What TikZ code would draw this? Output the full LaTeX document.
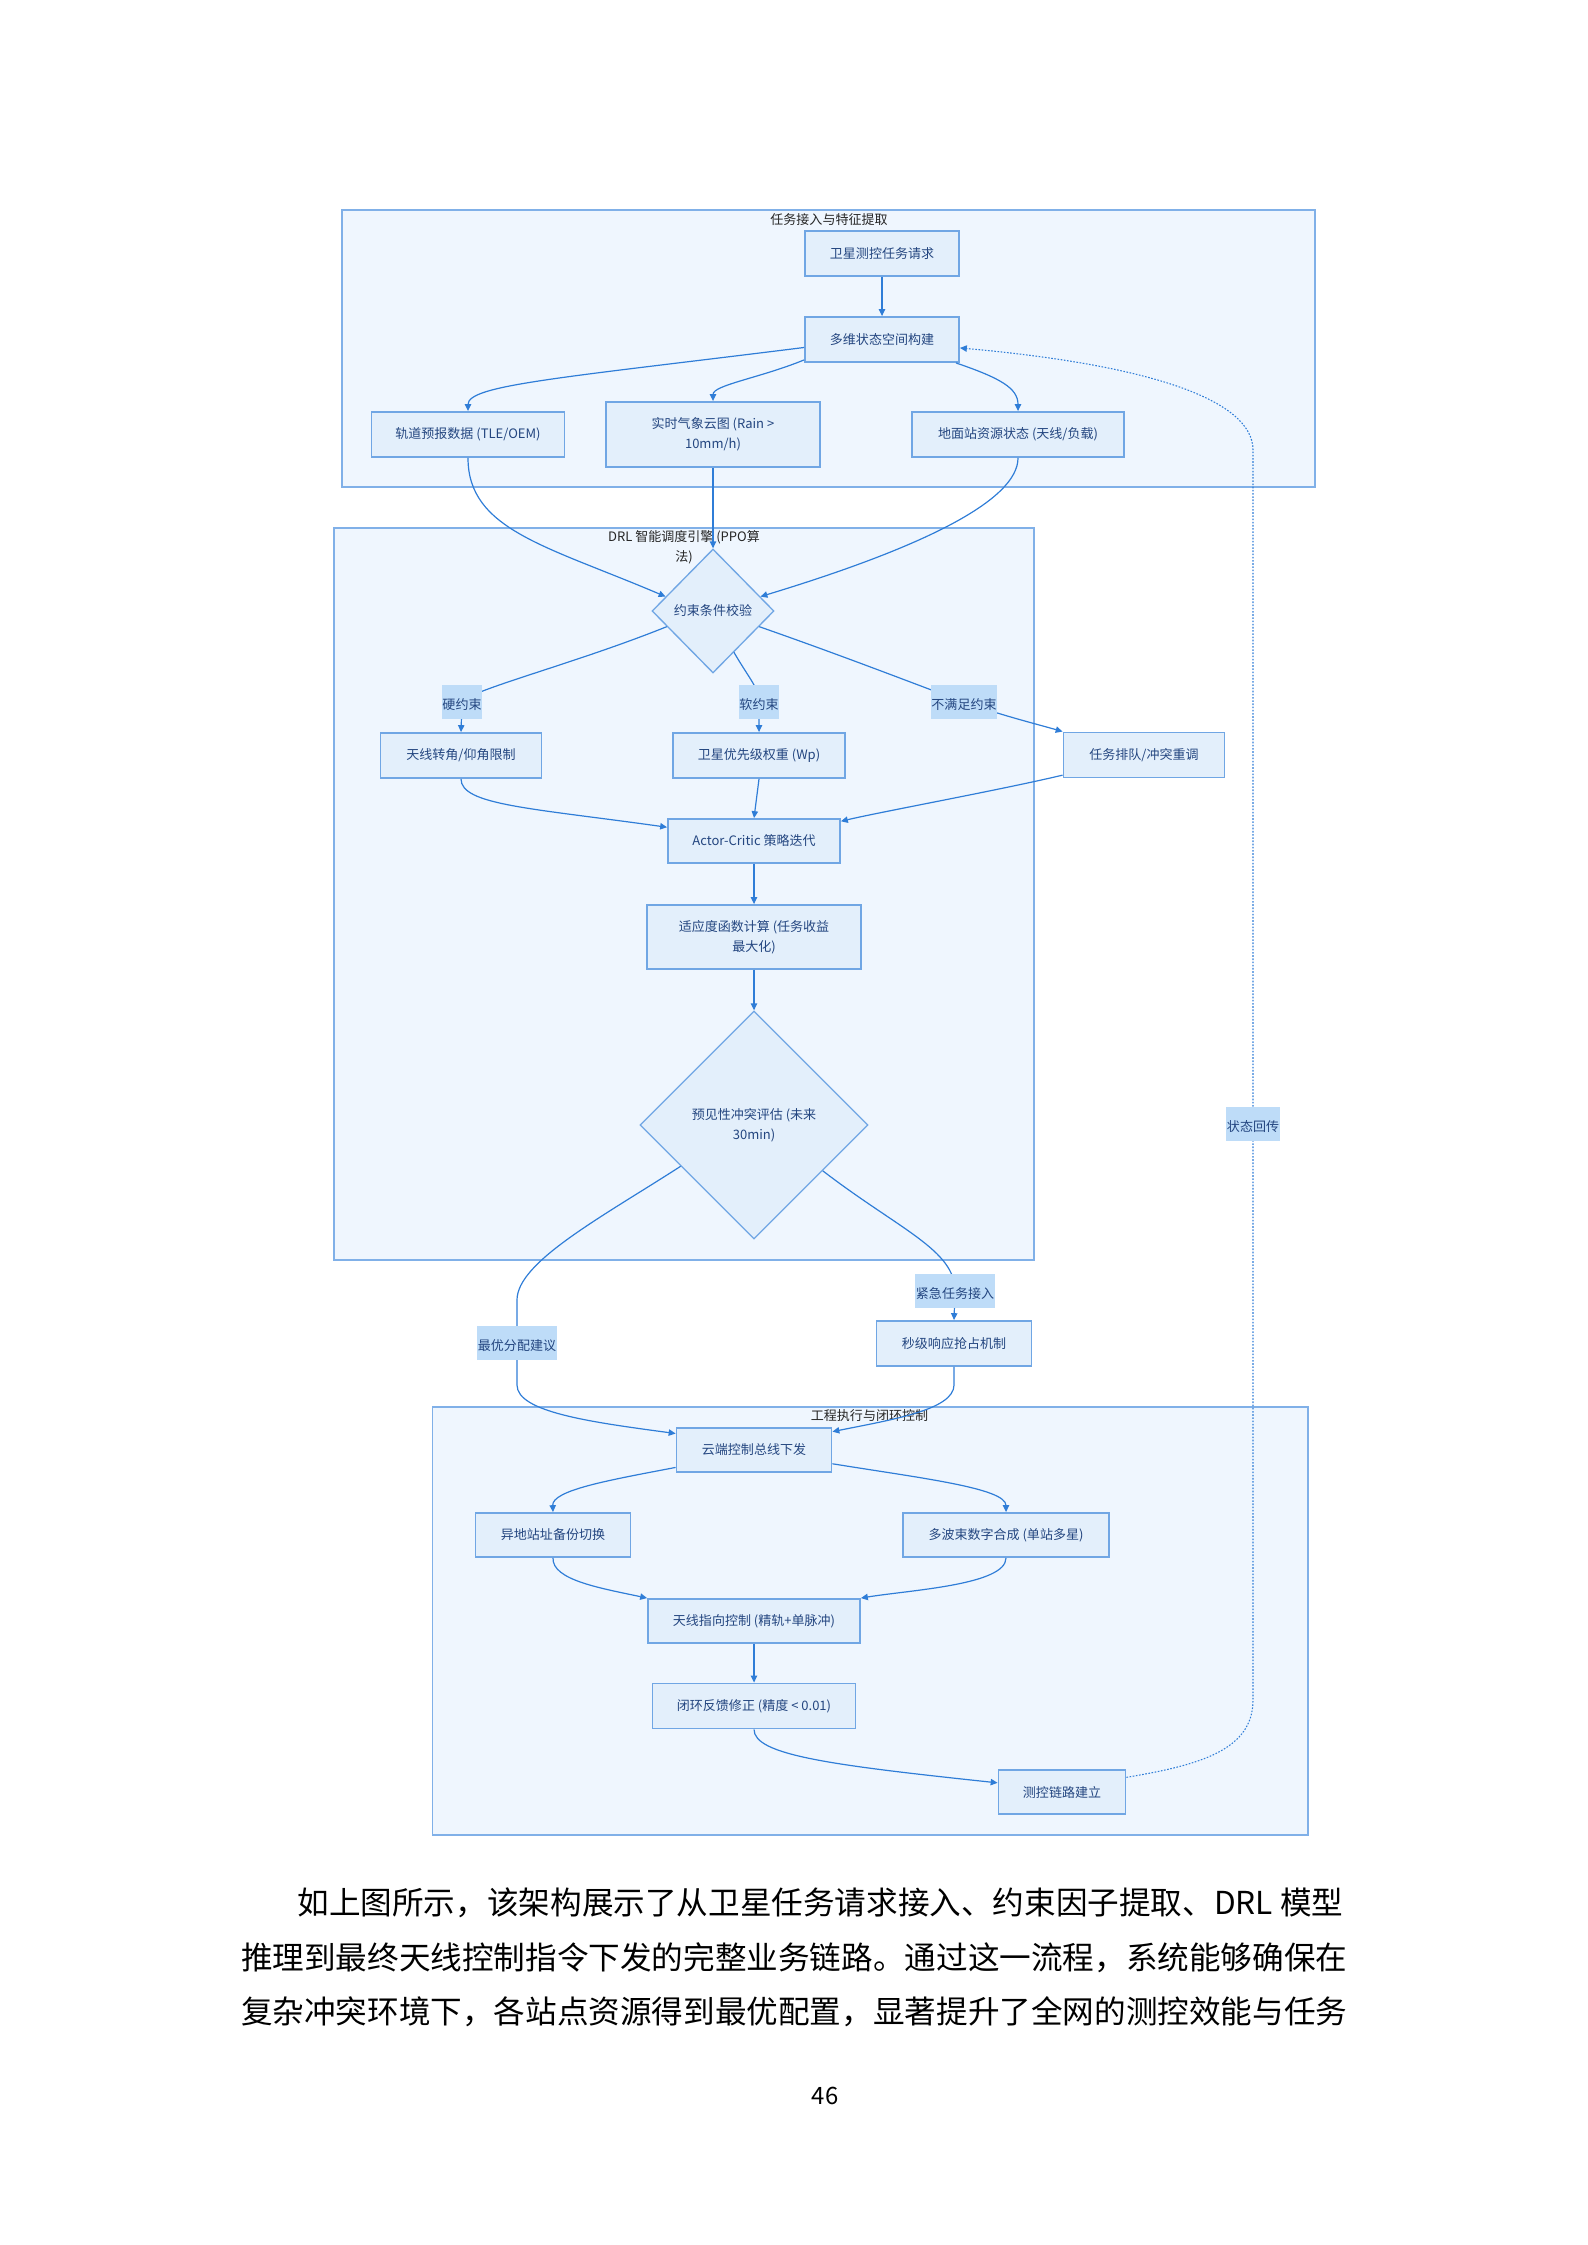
\documentclass[tikz,border=0pt]{standalone}
\usepackage{fontspec}
\setmainfont{Noto Sans CJK SC}
\usetikzlibrary{calc,arrows.meta,shapes.geometric}
\definecolor{fcline}{RGB}{47,125,215}
\definecolor{fcfill}{RGB}{227,239,251}
\definecolor{fcdraw}{RGB}{112,166,228}
\definecolor{fctext}{RGB}{36,70,128}
\definecolor{grpfill}{RGB}{239,246,254}
\definecolor{grpdraw}{RGB}{128,176,232}
\definecolor{lblfill}{RGB}{190,220,248}
\newcommand{\pxu}{0.3765pt}
\newcommand{\boxfont}{\fontsize{4.9pt}{7.4pt}\selectfont}
\tikzset{
  box/.style={draw=fcdraw,fill=fcfill,line width=0.7pt,text=fctext,font=\boxfont,
              align=center,inner sep=0pt,minimum height=45*\pxu},
  decision/.style={diamond,draw=fcdraw,fill=fcfill,line width=0.5pt,text=fctext,
              font=\boxfont,align=center,inner sep=0pt},
  cluster/.style={draw=grpdraw,fill=grpfill,line width=0.7pt},
  ctitle/.style={font=\boxfont,text=black!85,align=center,inner sep=0pt},
  edge/.style={draw=fcline,line width=0.45pt,-{Triangle[length=2.6pt,width=2.4pt]}},
  dotline/.style={dash pattern=on 0.6pt off 0.6pt,line width=0.4pt},
  elabel/.style={fill=lblfill,text=fctext,font=\boxfont,inner xsep=0.3pt,inner ysep=1.3pt,
              text height=0.8em,text depth=0.2em},
  para/.style={font=\fontsize{11.9pt}{14pt}\selectfont,inner sep=0pt,anchor=west},
}
\begin{document}
\begin{tikzpicture}[x=0.3765pt,y=-0.3765pt]
  \useasboundingbox (0,0) rectangle (1587,2245);
  % groups
  \draw[cluster] (342,210) rectangle (1315,487);
  \draw[cluster] (334,528) rectangle (1034,1260);
  \draw[cluster] (432.5,1407) rectangle (1308,1835);
  \node[ctitle] (t1) at (829,220) {任务接入与特征提取};
  \node[ctitle] (t2) at (684,547) {DRL 智能调度引擎 (PPO算\\法)};
  \node[ctitle] (t3) at (869.5,1416) {工程执行与闭环控制};

  % task intake
  \node[box,minimum width=154*\pxu] (nA) at (882,253.5) {卫星测控任务请求};
  \node[box,minimum width=154*\pxu] (nB) at (882,339.5) {多维状态空间构建};
  \node[box,minimum width=193*\pxu] (nC) at (468,434.5) {轨道预报数据 (TLE/OEM)};
  \node[box,minimum width=214*\pxu,minimum height=65*\pxu] (nD) at (713,434.5) {实时气象云图 (Rain >\\10mm/h)};
  \node[box,minimum width=212*\pxu] (nE) at (1018,434.5) {地面站资源状态 (天线/负载)};

  % drl engine
  \node[decision,minimum width=122*\pxu,minimum height=124*\pxu] (nF) at (713,611) {约束条件校验};
  \node[box,minimum width=161*\pxu] (nG) at (461,755.5) {天线转角/仰角限制};
  \node[box,minimum width=172*\pxu] (nH) at (759,755.5) {卫星优先级权重 (Wp)};
  \node[box,minimum width=161*\pxu] (nI) at (1144,755) {任务排队/冲突重调};
  \node[box,minimum width=172*\pxu,minimum height=44*\pxu] (nJ) at (754,841) {Actor-Critic 策略迭代};
  \node[box,minimum width=214*\pxu,minimum height=64*\pxu] (nK) at (754,937) {适应度函数计算 (任务收益\\最大化)};
  \node[decision,minimum width=228*\pxu,minimum height=228*\pxu] (nL) at (754,1125) {预见性冲突评估 (未来\\30min)};
  \node[box,minimum width=155*\pxu] (nN) at (954,1343.5) {秒级响应抢占机制};

  % execution
  \node[box,minimum width=155*\pxu,minimum height=44*\pxu] (nM) at (754,1450) {云端控制总线下发};
  \node[box,minimum width=155*\pxu,minimum height=44*\pxu] (nO) at (553,1535) {异地站址备份切换};
  \node[box,minimum width=206*\pxu,minimum height=44*\pxu] (nP) at (1006,1535) {多波束数字合成 (单站多星)};
  \node[box,minimum width=212*\pxu,minimum height=44*\pxu] (nQ) at (754,1621) {天线指向控制 (精轨+单脉冲)};
  \node[box,minimum width=203*\pxu] (nR) at (754,1706) {闭环反馈修正 (精度 < 0.01)};
  \node[box,minimum width=127*\pxu,minimum height=44*\pxu] (nS) at (1062,1792) {测控链路建立};

  % connectors
  \draw[edge] (nA) -- (nB);
  \draw[edge] ($(nB.west)+(0,8)$) .. controls (560,378) and (468,385) .. (nC.north);
  \draw[edge] ($(nB.south west)+(0,-3)$) .. controls (760,378) and (713,385) .. (nD.north);
  \draw[edge] ($(nB.south east)+(-4,0)$) .. controls (1000,378) and (1018,388) .. (nE.north);
  \draw[edge] (nC.south) .. controls (468,530) and (547,546) .. ($(nF.west)!0.23!(nF.north)$);
  \draw[edge] (nD) -- (nF);
  \draw[edge] (nE.south) .. controls (1018,500) and (924,547) .. ($(nF.east)!0.23!(nF.north)$);
  \draw[edge] ($(nF.west)!0.25!(nF.south)$) .. controls (574,664) and (470,690) .. (462,702)
        node[elabel] (l1) {硬约束} -- (nG.north);
  \draw[edge] ($(nF.south)!0.34!(nF.east)$) .. controls (750,680) and (759,688) .. (759,702)
        node[elabel] (l2) {软约束} -- (nH.north);
  \draw[edge] ($(nF.east)!0.25!(nF.south)$) .. controls (860,662) and (930,690) .. (964,702)
        node[elabel] (l3) {不满足约束} .. controls (1000,715) and (1040,725) .. (nI.north west);
  \draw[edge] (nG.south) .. controls (461,805) and (530,808) .. ($(nJ.north west)!0.2!(nJ.south west)$);
  \draw[edge] (nH.south) -- (nJ.north);
  \draw[edge] ($(nI.north west)!0.93!(nI.south west)$) .. controls (1000,790) and (880,812) .. ($(nJ.north east)!0.07!(nJ.south east)$);
  \draw[edge] (nJ) -- (nK);
  \draw[edge] (nK) -- (nL);
  \draw[edge] ($(nL.west)!0.36!(nL.south)$) .. controls (602,1217) and (517,1262) .. (517,1300)
        -- (517,1343) node[elabel] (l4) {最优分配建议} -- (517,1385)
        .. controls (517,1412) and (590,1422) .. ($(nM.north west)!0.14!(nM.south west)$);
  \draw[edge] ($(nL.east)!0.4!(nL.south)$) .. controls (900,1230) and (955,1250) .. (955,1291)
        node[elabel] (l5) {紧急任务接入} -- (nN.north);
  \draw[edge] (nN.south) -- (954,1385) .. controls (954,1410) and (890,1420) .. ($(nM.north east)!0.1!(nM.south east)$);
  \draw[edge] ($(nM.north west)!0.88!(nM.south west)$) .. controls (610,1480) and (552,1490) .. (nO.north);
  \draw[edge] ($(nM.north east)!0.8!(nM.south east)$) .. controls (920,1478) and (1006,1488) .. (nP.north);
  \draw[edge] (nO.south) .. controls (552,1580) and (600,1588) .. (nQ.north west);
  \draw[edge] (nP.south) .. controls (1006,1585) and (910,1590) .. (nQ.north east);
  \draw[edge] (nQ) -- (nR);
  \draw[edge] (nR.south) .. controls (754,1755) and (830,1765) .. ($(nS.north west)!0.3!(nS.south west)$);
  \draw[edge,dotline] ($(nS.north east)!0.18!(nS.south east)$) .. controls (1200,1765) and (1253,1750) .. (1253,1700)
        -- (1253,1124) node[elabel,solid] (l6) {状态回传} -- (1253,450)
        .. controls (1253,400) and (1150,365) .. ($(nB.north east)!0.68!(nB.south east)$);

  % page text
  \node[para] (p1) at (297,1903) {如上图所示，该架构展示了从卫星任务请求接入、约束因子提取、DRL 模型};
  \node[para] (p2) at (240.5,1958) {推理到最终天线控制指令下发的完整业务链路。通过这一流程，系统能够确保在};
  \node[para] (p3) at (240.5,2012) {复杂冲突环境下，各站点资源得到最优配置，显著提升了全网的测控效能与任务};
  \node[font=\fontsize{9pt}{11pt}\selectfont,inner sep=0pt] (pg) at (825,2096) {46};
\end{tikzpicture}
\end{document}
